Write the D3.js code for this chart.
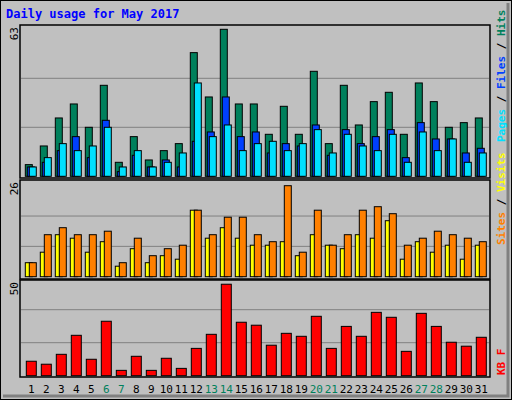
<!DOCTYPE html>
<html>
<head>
<meta charset="utf-8">
<script src="https://cdn.jsdelivr.net/npm/d3@7"></script>
<style>
  body { margin: 0; background: #fff; }
  text { font-family: "DejaVu Sans Mono", monospace; }
</style>
</head>
<body>
<div class="canvas"></div>
<script>
// ---- data ----
const days = d3.range(1, 32);
const weekend = [6, 7, 13, 14, 20, 21, 27, 28];
const hits   = [5,13,25,31,21,39,6,17,7,11,14,53,34,63,31,31,18,30,18,45,14,39,22,32,36,18,40,32,21,23,25];
const files  = [4,6,11,17,8,24,2,9,4,7,4,15,19,34,17,19,10,14,13,22,9,20,14,17,20,8,23,16,16,10,12];
const pages  = [4,8,14,11,13,21,4,11,4,6,10,40,17,22,11,14,15,11,14,20,10,18,13,11,18,6,19,11,16,6,10];
const sites  = [4,7,12,11,7,10,3,8,4,6,5,19,11,14,11,9,9,10,6,12,9,8,12,11,16,5,10,7,9,5,9];
const visits = [4,12,14,12,12,13,4,11,6,8,9,19,12,17,17,12,10,26,7,19,9,12,19,20,18,9,11,13,12,11,10];
const kbytes = [7.3,5.8,10.8,20.4,8.3,27.5,2.7,9.8,2.7,8.8,3.7,13.8,20.9,46.2,27,25.5,15.4,21.4,19.9,30,13.8,24.9,19.9,32,29.5,12.3,31.5,24.9,16.9,14.9,19.4];

const W = 512, H = 400;
const svg = d3.select('.canvas').append('svg').attr('width', W).attr('height', H);

// frame
svg.append('rect').attr('x', 0.5).attr('y', 0.5).attr('width', W - 1).attr('height', H - 1)
    .attr('fill', '#c0c0c0').attr('stroke', '#000');
svg.append('path').attr('d', `M${W-4},3V${H-4}H3`).attr('fill', 'none').attr('stroke', '#808080').attr('stroke-width', 3);

svg.append('text').attr('x', 6).attr('y', 18).text('Daily usage for May 2017')
    .attr('fill', '#0000ff').attr('font-weight', 'bold').attr('font-size', 12);

// day scale: slot start for each day
const x = d3.scaleLinear().domain([1, 32]).range([25.3, 25.3 + 15 * 31]);

// panel helper
function panel(top, bottom, base, ytop, maxv, label) {
    svg.append('rect').attr('x', 20).attr('y', top).attr('width', 470).attr('height', bottom - top)
        .attr('fill', '#c0c0c0').attr('stroke', '#000').attr('stroke-width', 1.5);
    const y = d3.scaleLinear().domain([0, maxv]).range([base, ytop]);
    [maxv / 3, maxv * 2 / 3].forEach(v => {
        svg.append('line').attr('x1', 21).attr('x2', 489).attr('y1', y(v)).attr('y2', y(v))
            .attr('stroke', '#808080').attr('stroke-width', 1);
    });
    svg.append('text').attr('transform', `translate(18,${top + 2}) rotate(-90)`)
        .attr('text-anchor', 'end').attr('font-size', 11).attr('fill', '#000').text(label);
    return y;
}

function bars(y, data, off, w, color) {
    svg.append('g').selectAll('rect').data(data).join('rect')
        .attr('x', (d, i) => x(i + 1) + off)
        .attr('y', d => y(d))
        .attr('width', w)
        .attr('height', d => y(0) - y(d))
        .attr('fill', color).attr('stroke', '#000').attr('stroke-width', 1);
}

// top: hits / files / pages
const y1 = panel(25, 178, 176.3, 29.3, 63, '63');
bars(y1, hits, 0, 7, '#00805c');
bars(y1, files, 2, 7, '#0040ff');
bars(y1, pages, 4, 7, '#00e0ff');

// middle: sites / visits
const y2 = panel(180, 279, 276.7, 185.7, 26, '26');
bars(y2, sites, 0, 7, '#ffff00');
bars(y2, visits, 4, 7, '#ff8000');

// bottom: kbytes
const y3 = panel(280, 377, 375.7, 276.7, 50, '50');
bars(y3, kbytes, 1, 10, '#ff0000');

// day labels
svg.append('g').selectAll('text').data(days).join('text')
    .attr('x', d => x(d) + 6).attr('y', 393).attr('text-anchor', 'middle')
    .attr('font-size', 11).attr('font-family', 'DejaVu Sans, sans-serif')
    .attr('fill', d => weekend.includes(d) ? '#00805c' : '#000').text(d => d);

// right side legends (rotated, read bottom-up)
function legend(yBottom, parts) {
    const t = svg.append('text').attr('transform', `translate(505,${yBottom}) rotate(-90)`)
        .attr('font-size', 11).attr('font-weight', 'bold');
    parts.forEach(([s, c]) => t.append('tspan').attr('fill', c).text(s));
}
legend(142, [['Pages', '#00e0ff'], [' / ', '#000'], ['Files', '#0040ff'], [' / ', '#000'], ['Hits', '#00805c']]);
legend(245, [['Sites', '#ff8000'], [' / ', '#000'], ['Visits', '#ffff00']]);
legend(375, [['KB F', '#ff0000']]);
</script>
</body>
</html>
